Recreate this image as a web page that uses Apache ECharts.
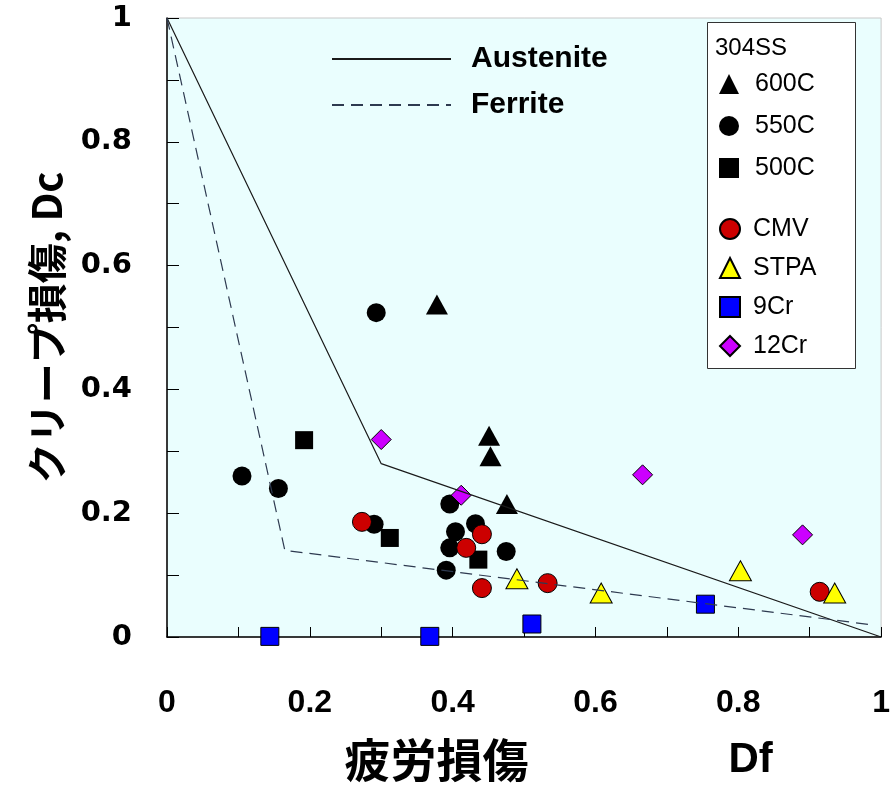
<!DOCTYPE html>
<html>
<head>
<meta charset="utf-8">
<script src="https://cdn.jsdelivr.net/npm/echarts@6/dist/echarts.min.js"></script>
<style>
  html, body { margin: 0; padding: 0; background: #ffffff; }
  #chart { width: 893px; height: 788px; }
</style>
</head>
<body>
<div id="chart"></div>
<script>
// Creep–fatigue damage envelopes (Df, Dc)
const austeniteLine = [[0, 1], [0.3, 0.28], [1, 0]];
const ferriteLine = [[0, 1], [0.165, 0.14], [0.985, 0.02]];

// 304SS test results by temperature
const ss600C = [[0.378, 0.537], [0.451, 0.325], [0.453, 0.292], [0.476, 0.215]];
const ss550C = [[0.293, 0.524], [0.105, 0.260], [0.156, 0.240], [0.290, 0.182], [0.396, 0.215],
                [0.432, 0.183], [0.404, 0.170], [0.396, 0.144], [0.475, 0.138], [0.391, 0.108]];
const ss500C = [[0.192, 0.318], [0.312, 0.160], [0.436, 0.125]];

// Other materials
const cmv = [[0.273, 0.186], [0.441, 0.166], [0.419, 0.144], [0.441, 0.079], [0.533, 0.087], [0.914, 0.073]];
const stpa = [[0.490, 0.094], [0.608, 0.071], [0.803, 0.107], [0.935, 0.071]];
const cr9 = [[0.144, 0.001], [0.368, 0.001], [0.511, 0.021], [0.754, 0.053]];
const cr12 = [[0.300, 0.319], [0.412, 0.229], [0.666, 0.262], [0.890, 0.165]];

const tickLabels = ['0', '0.2', '0.4', '0.6', '0.8', '1'];

function labelFor(v) {
  const k = Math.round(v * 10);
  return k % 2 === 0 ? tickLabels[k / 2] : '';
}

const chart = echarts.init(document.getElementById('chart'), null, { renderer: 'canvas' });

function scatter(name, data, symbol, size, color, border) {
  return {
    name, type: 'scatter', data, symbol, symbolSize: size, clip: false,
    itemStyle: { color, borderColor: border ? '#000' : color, borderWidth: border ? 1 : 0, opacity: 1 },
    emphasis: { disabled: true }
  };
}

const option = {
  animation: false,
  grid: {
    left: 167, right: 11, top: 18, bottom: 150,
    show: true, backgroundColor: '#eafefe', borderColor: '#c8c8c8', borderWidth: 1
  },
  xAxis: {
    type: 'value', min: 0, max: 1, interval: 0.1,
    splitLine: { show: false },
    axisLine: { lineStyle: { color: '#000', width: 1.5 } },
    axisTick: { inside: true, length: 10, lineStyle: { color: '#000' } },
    axisLabel: {
      margin: 50, formatter: labelFor, color: '#000',
      fontFamily: 'Liberation Sans, Arial, sans-serif', fontWeight: 'bold', fontSize: 32
    },
    name: '{a|疲労損傷}{b|Df}',
    nameLocation: 'middle', nameGap: 100,
    nameTextStyle: {
      padding: [0, 0, 0, 69],
      rich: {
        a: { fontFamily: 'Noto Sans CJK JP', fontWeight: 'bold', fontSize: 46, color: '#000' },
        b: { fontFamily: 'Liberation Sans, Arial, sans-serif', fontWeight: 'bold', fontSize: 42, color: '#000', padding: [0, 0, 0, 200] }
      }
    }
  },
  yAxis: {
    type: 'value', min: 0, max: 1, interval: 0.1,
    splitLine: { show: false },
    axisLine: { show: true, lineStyle: { color: '#000', width: 1.5 } },
    axisTick: { show: true, inside: true, length: 12, lineStyle: { color: '#000' } },
    axisLabel: {
      margin: 35, formatter: labelFor, color: '#000',
      fontFamily: 'DejaVu Sans, sans-serif', fontWeight: 'bold', fontSize: 29,
      padding: [8, 0, 0, 0]
    },
    name: 'クリープ損傷, Dc',
    nameLocation: 'middle', nameGap: 100,
    nameTextStyle: { fontFamily: 'Noto Sans CJK JP', fontWeight: 'bold', fontSize: 40, color: '#000' }
  },
  legend: [
    {
      data: ['Austenite', 'Ferrite'], orient: 'vertical', left: 331, top: 43, padding: 0,
      itemWidth: 119, itemHeight: 14, itemGap: 14,
      itemStyle: { opacity: 0 },
      textStyle: { fontFamily: 'Liberation Sans, Arial, sans-serif', fontWeight: 'bold', fontSize: 30, lineHeight: 32, color: '#000', padding: [0, 0, 0, 15] },
      selectedMode: false
    },
    {
      data: ['600C', '550C', '500C'], orient: 'vertical', left: 719, top: 70, padding: 0,
      itemWidth: 20, itemHeight: 20, itemGap: 14, z: 5,
      textStyle: { fontFamily: 'Liberation Sans, Arial, sans-serif', fontSize: 25, lineHeight: 28, color: '#000', padding: [0, 0, 0, 11] },
      selectedMode: false
    },
    {
      data: ['CMV', 'STPA', '9Cr', '12Cr'], orient: 'vertical', left: 719, top: 215, padding: 0,
      itemWidth: 20, itemHeight: 20, itemGap: 11, z: 5,
      textStyle: { fontFamily: 'Liberation Sans, Arial, sans-serif', fontSize: 25, lineHeight: 28, color: '#000', padding: [0, 0, 0, 8] },
      selectedMode: false
    }
  ],
  graphic: [
    {
      type: 'rect', z: 3, left: 707, top: 22,
      shape: { width: 148, height: 346 },
      style: { fill: '#ffffff', stroke: '#333', lineWidth: 1 }
    },
    {
      type: 'text', z: 4, left: 715, top: 36,
      style: { text: '304SS', fill: '#000', font: '24px "Liberation Sans", Arial, sans-serif' }
    }
  ],
  series: [
    {
      name: 'Austenite', type: 'line', data: austeniteLine, symbol: 'none', silent: true,
      lineStyle: { color: '#1a1a1a', width: 1.2, type: 'solid' }, itemStyle: { color: '#1a1a1a' }
    },
    {
      name: 'Ferrite', type: 'line', data: ferriteLine, symbol: 'none', silent: true,
      lineStyle: { color: '#2e3a50', width: 1.2, type: [12, 7] }, itemStyle: { color: '#2e3a50' }
    },
    scatter('600C', ss600C, 'triangle', [22, 20], '#000', false),
    scatter('550C', ss550C, 'circle', 19, '#000', false),
    scatter('500C', ss500C, 'rect', 18, '#000', false),
    scatter('CMV', cmv, 'circle', 19, '#cc0000', true),
    scatter('STPA', stpa, 'triangle', [22, 20], '#ffff00', true),
    scatter('9Cr', cr9, 'rect', 18, '#0000ff', true),
    scatter('12Cr', cr12, 'diamond', 20, '#cc00ff', true)
  ]
};

chart.setOption(option);
</script>
</body>
</html>
